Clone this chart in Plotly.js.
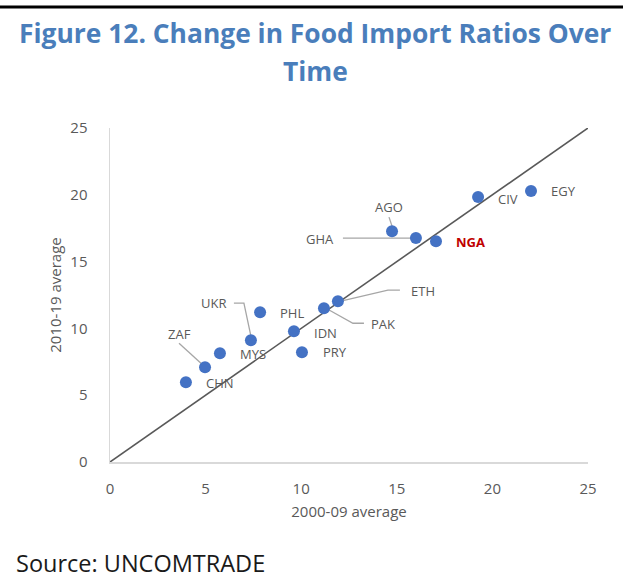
<!DOCTYPE html>
<html>
<head>
<meta charset="utf-8">
<script src="https://cdn.plot.ly/plotly-3.0.1.min.js"></script>
<style>
  html, body { margin: 0; padding: 0; background: #ffffff; }
  #chart { width: 623px; height: 579px; }
</style>
</head>
<body>
<div id="chart"></div>
<script>
// ---- data ----
const countries = ["CHN", "ZAF", "MYS", "UKR", "PHL", "IDN", "PRY", "PAK", "ETH", "AGO", "GHA", "NGA", "CIV", "EGY"];
const avg2000_09 = [3.97, 4.97, 5.75, 7.37, 7.85, 9.62, 10.04, 11.19, 11.92, 14.75, 16.0, 17.05, 19.25, 22.02];
const avg2010_19 = [5.97, 7.09, 8.14, 9.12, 11.21, 9.79, 8.22, 11.51, 12.04, 17.28, 16.76, 16.53, 19.83, 20.28];
const diagX = [0, 25];
const diagY = [0, 25];
const tickVals = [0, 5, 10, 15, 20, 25];
const titleLines = ["Figure 12. Change in Food Import Ratios Over", "Time"];
const sourceText = "Source: UNCOMTRADE";

// ---- label placement (pixel offsets from each point) ----
const labelStyle = {
  CHN: {xanchor: "left",   dx: 18,  dy: -1},
  ZAF: {xanchor: "center", dx: -26, dy: 33},
  MYS: {xanchor: "left",   dx: 18,  dy: -1},
  UKR: {xanchor: "center", dx: -37, dy: 37},
  PHL: {xanchor: "left",   dx: 18,  dy: -1},
  IDN: {xanchor: "left",   dx: 18,  dy: -2},
  PRY: {xanchor: "left",   dx: 19,  dy: 0},
  PAK: {xanchor: "left",   dx: 45,  dy: -16},
  ETH: {xanchor: "left",   dx: 71,  dy: 10},
  AGO: {xanchor: "center", dx: -3,  dy: 24},
  GHA: {xanchor: "right",  dx: -80, dy: -1},
  NGA: {xanchor: "left",   dx: 18,  dy: -1},
  CIV: {xanchor: "left",   dx: 18,  dy: -2},
  EGY: {xanchor: "left",   dx: 18,  dy: 0}
};
// leader line paths in pixel offsets (y up) relative to each point
const leaders = {
  ZAF: "M-26,24 L-3,3",
  UKR: "M-17,37 L-7,37 L0,4",
  GHA: "M-73,0 L-5,0",
  AGO: "M-3,14 L0,5",
  ETH: "M62,11 L50,11 L3,0",
  PAK: "M2,0 L29,-15 L40,-15"
};

// plot area geometry helpers (pixels)
const M = {l: 110, r: 35, t: 128, b: 117};
const plotW = 623 - M.l - M.r;
const plotH = 579 - M.t - M.b;
const py = (pxFromTop) => 1 + (M.t - pxFromTop) / plotH;
const px = (pxFromLeft) => (pxFromLeft - M.l) / plotW;

const annotations = countries.map((c, i) => {
  const s = labelStyle[c];
  const isNGA = c === "NGA";
  return {
    x: avg2000_09[i], y: avg2010_19[i], xref: "x", yref: "y",
    text: isNGA ? "<b>NGA</b>" : c,
    showarrow: false,
    xanchor: s.xanchor, yanchor: "middle",
    xshift: s.dx, yshift: s.dy,
    font: {family: "Open Sans, sans-serif", size: 13, color: isNGA ? "#c00000" : "#595959"}
  };
});

// title lines
[33, 71].forEach((yy, k) => {
  annotations.push({
    text: "<b>" + titleLines[k] + "</b>",
    xref: "paper", yref: "paper",
    x: px(315), y: py(yy),
    xanchor: "center", yanchor: "middle",
    showarrow: false,
    font: {family: "Open Sans, sans-serif", size: 26.4, color: "#4a7ebb"}
  });
});

// source note
annotations.push({
  text: sourceText,
  xref: "paper", yref: "paper",
  x: px(14), y: py(563),
  xanchor: "left", yanchor: "middle",
  showarrow: false,
  font: {family: "Open Sans, sans-serif", size: 23.5, color: "#1a1a1a"}
});

const shapes = [];
countries.forEach((c, i) => {
  if (leaders[c]) {
    shapes.push({
      type: "path",
      xref: "x", yref: "y",
      xsizemode: "pixel", ysizemode: "pixel",
      xanchor: avg2000_09[i], yanchor: avg2010_19[i],
      path: leaders[c],
      line: {color: "#a6a6a6", width: 1.3},
      layer: "below"
    });
  }
});
// black rule at the top of the figure
shapes.push({
  type: "line", xref: "paper", yref: "paper",
  x0: px(-5), x1: px(630), y0: py(7), y1: py(7),
  line: {color: "#000000", width: 3}
});

const traces = [
  {
    x: diagX, y: diagY, mode: "lines", type: "scatter",
    line: {color: "#595959", width: 1.6},
    hoverinfo: "skip", showlegend: false
  },
  {
    x: avg2000_09, y: avg2010_19, text: countries,
    mode: "markers", type: "scatter",
    marker: {color: "#4472c4", size: 12},
    showlegend: false
  }
];

const axisCommon = {
  range: [0, 25],
  tickvals: tickVals,
  showgrid: false,
  zeroline: false,
  showline: true,
  linecolor: "#d9d9d9",
  linewidth: 1.5,
  ticks: "",
  tickfont: {family: "Open Sans, sans-serif", size: 15, color: "#595959"},
  fixedrange: true
};

const layout = {
  width: 623, height: 579,
  margin: M,
  paper_bgcolor: "#ffffff",
  plot_bgcolor: "#ffffff",
  xaxis: Object.assign({}, axisCommon, {
    ticklabelstandoff: 12,
    title: {text: "2000-09 average", standoff: 10,
            font: {family: "Open Sans, sans-serif", size: 15, color: "#595959"}}
  }),
  yaxis: Object.assign({}, axisCommon, {
    ticklabelstandoff: 18,
    title: {text: "2010-19 average", standoff: 5,
            font: {family: "Open Sans, sans-serif", size: 15, color: "#595959"}}
  }),
  annotations: annotations,
  shapes: shapes,
  showlegend: false
};

Plotly.newPlot("chart", traces, layout, {displayModeBar: false, staticPlot: true});
</script>
</body>
</html>
